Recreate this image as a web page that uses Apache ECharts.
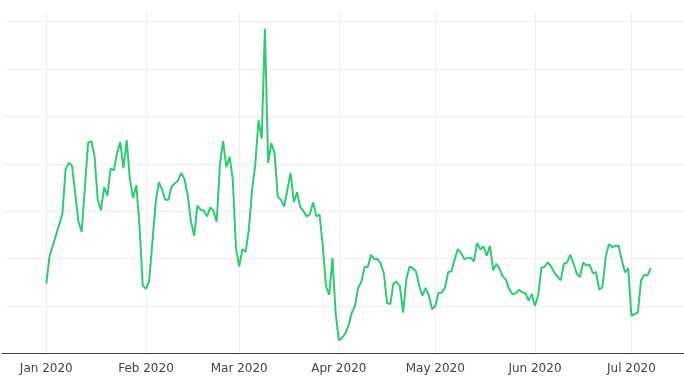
<!DOCTYPE html>
<html>
<head>
<meta charset="utf-8">
<script src="https://cdn.jsdelivr.net/npm/echarts@6/dist/echarts.min.js"></script>
<style>
html,body{margin:0;padding:0;background:#fff;}
#chart{width:684px;height:390px;}
</style>
</head>
<body>
<div id="chart"></div>
<script>
const dates = [
 '2020-01-01','2020-01-02','2020-01-06','2020-01-07','2020-01-08','2020-01-09','2020-01-11','2020-01-12','2020-01-14','2020-01-15',
 '2020-01-16','2020-01-17','2020-01-18','2020-01-19','2020-01-20','2020-01-21','2020-01-22','2020-01-23','2020-01-24','2020-01-25',
 '2020-01-26','2020-01-27','2020-01-28','2020-01-29','2020-01-30','2020-01-31',
 '2020-02-01','2020-02-02','2020-02-04','2020-02-05','2020-02-06','2020-02-07','2020-02-08','2020-02-09','2020-02-11','2020-02-12',
 '2020-02-13','2020-02-14','2020-02-15','2020-02-16','2020-02-17','2020-02-18','2020-02-19','2020-02-20','2020-02-21','2020-02-22',
 '2020-02-23','2020-02-24','2020-02-25','2020-02-26','2020-02-27','2020-02-28','2020-02-29',
 '2020-03-01','2020-03-02','2020-03-03','2020-03-04','2020-03-05','2020-03-06','2020-03-07','2020-03-08','2020-03-09','2020-03-10',
 '2020-03-11','2020-03-12','2020-03-13','2020-03-14','2020-03-15','2020-03-17','2020-03-18','2020-03-19','2020-03-20','2020-03-21',
 '2020-03-22','2020-03-23','2020-03-24','2020-03-25','2020-03-26','2020-03-27','2020-03-28','2020-03-29','2020-03-30','2020-03-31',
 '2020-04-01','2020-04-02','2020-04-03','2020-04-04','2020-04-05','2020-04-06','2020-04-07','2020-04-08','2020-04-09','2020-04-10',
 '2020-04-11','2020-04-12','2020-04-13','2020-04-14','2020-04-15','2020-04-16','2020-04-17','2020-04-18','2020-04-19','2020-04-20',
 '2020-04-21','2020-04-22','2020-04-23','2020-04-24','2020-04-25','2020-04-26','2020-04-27','2020-04-28','2020-04-29','2020-04-30',
 '2020-05-01','2020-05-02','2020-05-03','2020-05-04','2020-05-05','2020-05-06','2020-05-07','2020-05-08','2020-05-09','2020-05-10',
 '2020-05-12','2020-05-13','2020-05-14','2020-05-15','2020-05-16','2020-05-17','2020-05-18','2020-05-19','2020-05-20','2020-05-21',
 '2020-05-22','2020-05-23','2020-05-24','2020-05-25','2020-05-26','2020-05-27','2020-05-28','2020-05-29','2020-05-30','2020-05-31',
 '2020-06-01','2020-06-02','2020-06-03','2020-06-04','2020-06-05','2020-06-06','2020-06-07','2020-06-08','2020-06-09','2020-06-10',
 '2020-06-11','2020-06-12','2020-06-13','2020-06-14','2020-06-15','2020-06-16','2020-06-17','2020-06-18','2020-06-19','2020-06-20',
 '2020-06-21','2020-06-22','2020-06-23','2020-06-24','2020-06-25','2020-06-26','2020-06-27','2020-06-28','2020-06-29','2020-06-30',
 '2020-07-01','2020-07-02','2020-07-03','2020-07-04','2020-07-05','2020-07-06','2020-07-07'
];
const values = [
 147,204,294,388,402,396,278,256,444,448,
 416,324,302,351,333,390,386,422,446,391,
 450,367,328,355,268,143,
 136,153,317,361,347,324,324,352,365,381,
 367,333,278,248,312,303,301,289,308,300,
 278,397,448,393,415,367,222,
 183,220,214,261,345,398,492,453,685,402,
 444,422,330,324,310,381,319,340,309,300,
 289,294,319,289,293,226,142,123,201,85,
 28,32,42,58,85,100,138,151,182,182,
 208,199,199,190,169,106,104,148,151,141,
 86,157,183,180,173,142,122,138,122,93,
 100,128,128,138,171,173,197,220,212,199,
 202,194,233,219,226,206,227,175,189,178,
 162,155,135,124,127,134,129,127,111,125,
 100,123,180,183,192,183,171,162,154,189,
 192,208,190,168,161,192,185,187,169,171,
 134,140,203,231,224,227,227,197,171,180,
 79,83,86,154,166,164,180
];
const monthNames = ['Jan','Feb','Mar','Apr','May','Jun','Jul','Aug','Sep','Oct','Nov','Dec'];
const yTicks = {min: 0, max: 700, step: 100};

const DAY = 86400000;
const xMin = new Date(2020, 0, 1).getTime() - 13.78 * DAY;
const xMax = new Date(2020, 6, 1).getTime() + 16.36 * DAY;
const seriesData = dates.map((d, i) => [d, values[i]]);

const chart = echarts.init(document.getElementById('chart'), null, {renderer: 'canvas'});
const font = "'DejaVu Sans', Verdana, sans-serif";
chart.setOption({
  animation: false,
  backgroundColor: '#fff',
  grid: [
    {left: 2, right: 0, top: 21.7, bottom: 36.7},
    {left: 2, right: 0, top: 12, bottom: 36.7}
  ],
  xAxis: [
    {
      type: 'time', gridIndex: 0, min: xMin, max: xMax, splitNumber: 7,
      maxInterval: 31 * DAY, minInterval: 28 * DAY,
      axisLine: {show: true, lineStyle: {color: '#444', width: 1}},
      axisTick: {show: false},
      splitLine: {show: false},
      axisLabel: {
        color: '#444', fontSize: 12, fontFamily: font, margin: 10,
        hideOverlap: false,
        formatter: function (v) { const d = new Date(v); return monthNames[d.getMonth()] + ' ' + d.getFullYear(); }
      }
    },
    {
      type: 'time', gridIndex: 1, min: xMin, max: xMax, splitNumber: 7,
      maxInterval: 31 * DAY, minInterval: 28 * DAY,
      axisLine: {show: false}, axisTick: {show: false}, axisLabel: {show: false},
      splitLine: {show: true, showMinLine: false, showMaxLine: false, lineStyle: {color: '#eee', width: 1}}
    }
  ],
  yAxis: [
    {
      type: 'value', gridIndex: 0, min: yTicks.min, max: yTicks.max, interval: yTicks.step,
      axisLine: {show: false}, axisTick: {show: false}, axisLabel: {show: false},
      splitLine: {show: true, lineStyle: {color: '#eee', width: 1}}
    },
    {
      type: 'value', gridIndex: 1, min: 0, max: 1, show: false,
      splitLine: {show: false}
    }
  ],
  series: [{
    type: 'line', xAxisIndex: 0, yAxisIndex: 0,
    data: seriesData,
    showSymbol: false, symbol: 'none',
    lineStyle: {color: '#2ecc71', width: 2},
    itemStyle: {color: '#2ecc71'},
    clip: false,
    z: 5
  }]
});
</script>
</body>
</html>
